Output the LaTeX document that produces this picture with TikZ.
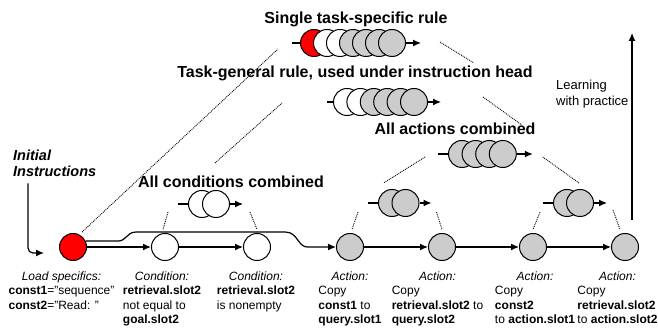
\documentclass[tikz,border=0pt]{standalone}
\usepackage{fontspec}
\setmainfont{Liberation Sans}
\usetikzlibrary{arrows.meta,positioning,calc}

% italic header centred over a left-aligned block
\newcommand{\steplabel}[2]{\begin{tabular}{@{}l@{}}\multicolumn{1}{@{}c@{}}{\itshape #1}\\#2\end{tabular}}

\begin{document}
\begin{tikzpicture}[
    x=1pt, y=1pt,
    state/.style={circle, draw=black, line width=1pt, minimum size=27pt, inner sep=0},
    flow/.style={line width=1.2pt, -{Latex[length=8pt,width=7pt]}},
    lead/.style={line width=1.2pt},
    guide/.style={densely dotted, line width=0.9pt},
    title/.style={font=\fontsize{16}{19}\selectfont\bfseries, anchor=base, inner sep=0},
    steptext/.style={font=\fontsize{12}{14.5}\selectfont, inner sep=0, anchor=north},
]
\useasboundingbox (0,0) rectangle (658,328);

% titles
\node[title] (tsingle) at (356,304) {Single task-specific rule};
\node[title] (tgeneral) at (355,250) {Task-general rule, used under instruction head};
\node[title] (tact) at (455,193) {All actions combined};
\node[title] (tcond) at (231,140) {All conditions combined};

% the production, step by step
\node[state, fill=red] (n0) at (73,81) {};
\node[state, fill=white] (n1) at (165,81) {};
\node[state, fill=white] (n2) at (257,81) {};
\node[state, fill=gray!40] (n3) at (350,81) {};
\node[state, fill=gray!40] (n4) at (442,81) {};
\node[state, fill=gray!40] (n5) at (533,81) {};
\node[state, fill=gray!40] (n6) at (625,81) {};

\draw[flow] (n0) -- (n1);
\draw[flow] (n1) -- (n2);
\draw[flow] (n3) -- (n4);
\draw[flow] (n4) -- (n5);
\draw[flow] (n5) -- (n6);
\draw[flow] (n0.25) -- ++(32,0) .. controls +(9,0) and +(-9,0) .. ++(18,9)
    -- ++(150,0) .. controls +(12,0) and +(-10,0) .. ++(22,-15) -- (n3.west);

\node[steptext, below=9pt of n0, xshift=-11.5pt] (l0) {\steplabel{Load specifics:}{\textbf{const1}="sequence"\\\textbf{const2}="Read: "}};
\node[steptext, below=9pt of n1, xshift=-3pt] (l1) {\steplabel{Condition:}{\textbf{retrieval.slot2}\\not equal to\\\textbf{goal.slot2}}};
\node[steptext, below=9pt of n2, xshift=-1pt] (l2) {\steplabel{Condition:}{\textbf{retrieval.slot2}\\is nonempty}};
\node[steptext, below=9pt of n3] (l3) {\steplabel{Action:}{Copy\\\textbf{const1} to\\\textbf{query.slot1}}};
\node[steptext, below=9pt of n4, xshift=-4.5pt] (l4) {\steplabel{Action:}{Copy\\\textbf{retrieval.slot2} to\\\textbf{query.slot2}}};
\node[steptext, below=9pt of n5, xshift=2pt] (l5) {\steplabel{Action:}{Copy\\\textbf{const2}\\to \textbf{action.slot1}}};
\node[steptext, below=9pt of n6, xshift=-7.5pt] (l6) {\steplabel{Action:}{Copy\\\textbf{retrieval.slot2}\\to \textbf{action.slot2}}};

% initial instructions feed in
\node[font=\fontsize{14.5}{16}\selectfont\bfseries\itshape, align=left, anchor=base west, inner sep=0] (init) at (13,151) {Initial\\Instructions};
\draw[flow, rounded corners=5pt] ([xshift=15pt,yshift=-6pt]init.south west) |- ([xshift=-15pt,yshift=-6pt]n0.west);

% combined rules
\foreach \i/\c in {1/white,2/white} \node[state, fill=\c] (c\i) at ({188+14*\i},124) {};
\draw[lead] (c1.west) -- ++(-10,0);
\draw[flow] (c2.east) -- ++(13,0);

\foreach \i in {1,2} \node[state, fill=gray!40] (p\i) at ({378.5+13.5*\i},125) {};
\draw[lead] (p1.west) -- ++(-10,0);
\draw[flow] (p2.east) -- ++(12,0);

\foreach \i in {1,2} \node[state, fill=gray!40] (q\i) at ({554+13*\i},125) {};
\draw[lead] (q1.west) -- ++(-10,0);
\draw[flow] (q2.east) -- ++(13,0);

\foreach \i in {1,...,4} \node[state, fill=gray!40] (a\i) at ({448.4+13.6*\i},174) {};
\draw[lead] (a1.west) -- ++(-10,0);
\draw[flow] (a4.east) -- ++(16,0);

\foreach \i/\c in {1/white,2/white,3/gray!40,4/gray!40,5/gray!40,6/gray!40}
    \node[state, fill=\c] (t\i) at ({333.6+13.4*\i},226) {};
\draw[lead] (t1.west) -- ++(-6,0);
\draw[flow] (t6.east) -- ++(13,0);

\foreach \i/\c in {1/red,2/white,3/white,4/gray!40,5/gray!40,6/gray!40,7/gray!40}
    \node[state, fill=\c] (s\i) at ({301+13*\i},285) {};
\draw[lead] (s1.west) -- ++(-8,0);
\draw[flow] (s7.east) -- ++(15,0);

% cones between levels
\draw[guide] ($(n0)+(9,15)$) -- ($(s1)+(-36,-6)$);
\draw[guide] ($(c1)+(13,41)$) -- ($(t1)+(-65,-1)$);
\draw[guide] ($(s7)+(48,1)$) -- ($(t6)+(60,39)$);
\draw[guide] ($(t6)+(69,5)$) -- ($(a4)+(19,29)$);
\draw[guide] ($(a1)+(-37,-3)$) -- ($(p2)+(-22,20)$);
\draw[guide] ($(a4)+(40,-3)$) -- ($(q2)+(-1,20)$);
\draw[guide] ($(c1)+(-34,-8)$) -- ([xshift=-2pt,yshift=3.5pt]n1.north);
\draw[guide] ($(c2)+(34,-8)$) -- ([yshift=3.5pt]n2.north);
\draw[guide] ($(p1)+(-34,-9)$) -- ([xshift=2pt,yshift=3.5pt]n3.north);
\draw[guide] ($(p2)+(31,-9)$) -- ([yshift=3.5pt]n4.north);
\draw[guide] ($(q1)+(-27,-9)$) -- ([yshift=3.5pt]n5.north);
\draw[guide] ($(q2)+(33,-7)$) -- ([xshift=-5pt,yshift=3.5pt]n6.north);

% learning
\node[font=\fontsize{13}{16}\selectfont, align=left, anchor=base west, inner sep=0] (learn) at (556,222) {Learning\\with practice};
\draw[flow] ([shift={(7,27)}]n6.center) -- ++(0,187);

\end{tikzpicture}
\end{document}
